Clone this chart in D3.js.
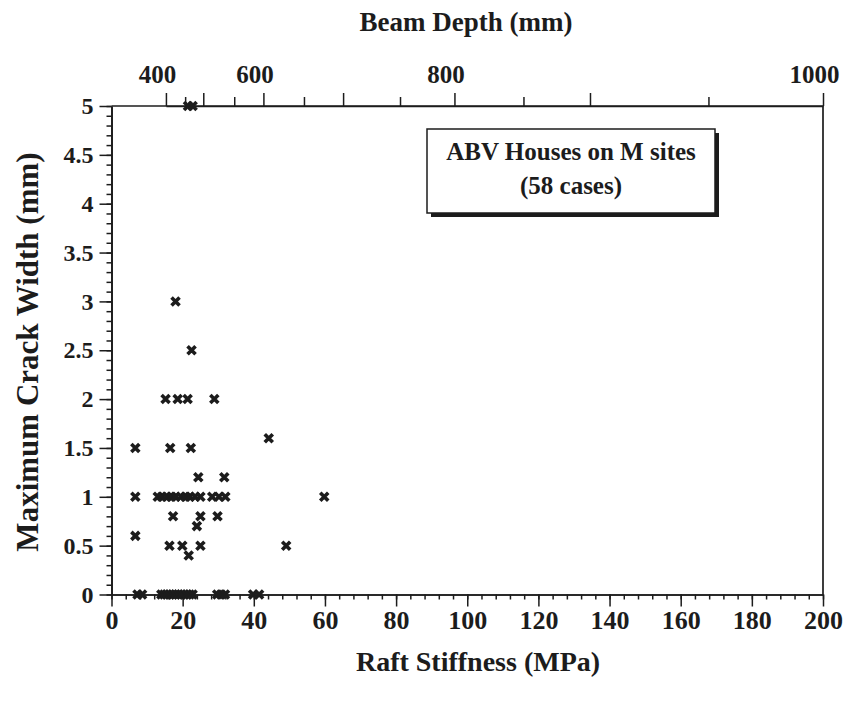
<!DOCTYPE html>
<html>
<head>
<meta charset="utf-8">
<script src="https://cdn.jsdelivr.net/npm/d3@7"></script>
<style>
  body { margin: 0; background: #fff; }
  text { font-family: "Liberation Serif", "Times New Roman", serif; font-weight: bold; fill: #1c1c1c; }
</style>
</head>
<body>
<svg id="chart" width="855" height="704"></svg>
<script>
// Raft stiffness (MPa) and maximum crack width (mm) for each house, in matching order
const stiffness = [
  21.5, 22.8,
  18,
  22.5,
  15.2, 18.6, 21.4, 28.9,
  44.2,
  6.7, 16.5, 22.3,
  24.4, 31.7,
  6.7, 13, 14.2, 15.5, 16.8, 18, 19.5, 20.8, 22, 23.5, 25, 28.3, 30.2, 32, 59.8,
  17.3, 25, 29.8,
  24,
  6.7,
  16.3, 19.9, 25, 49.1,
  21.7,
  7.3, 8.6, 14, 14.8, 15.6, 16.4, 17.2, 18, 18.8, 19.6, 20.4, 21.2, 22, 22.8, 29.7, 30.8, 31.9, 39.8, 41.5
];
const crackWidth = [
  5, 5,
  3,
  2.5,
  2, 2, 2, 2,
  1.6,
  1.5, 1.5, 1.5,
  1.2, 1.2,
  1, 1, 1, 1, 1, 1, 1, 1, 1, 1, 1, 1, 1, 1, 1,
  0.8, 0.8, 0.8,
  0.7,
  0.6,
  0.5, 0.5, 0.5, 0.5,
  0.4,
  0, 0, 0, 0, 0, 0, 0, 0, 0, 0, 0, 0, 0, 0, 0, 0, 0, 0, 0
];

const xMajorTicks = [0, 20, 40, 60, 80, 100, 120, 140, 160, 180, 200];
const xMinorTicks = d3.range(0, 201, 4);
const yMajorTicks = [0, 0.5, 1, 1.5, 2, 2.5, 3, 3.5, 4, 4.5, 5];
const yMinorTicks = d3.range(0, 51).map(d => d / 10);

// Beam depth (mm) ticks on the top axis and the raft stiffness (MPa) each one sits at
const depthTicks = [400, 450, 500, 550, 600, 650, 700, 750, 800, 850, 900, 950, 1000];
const depthTickStiffness = [15.3, 20.7, 25.8, 34.5, 42.7, 54.1, 65.1, 81.1, 96.4, 115.8, 134.5, 167.8, 200];
const depthLabels = [400, 600, 800, 1000];

const legendLines = ["ABV Houses on M sites", "(58 cases)"];

const svg = d3.select("#chart");
const margin = { left: 111.5, right: 32, top: 106, bottom: 109.5 };
const W = 855, H = 704;
const ink = "#1c1c1c";

const x = d3.scaleLinear().domain([0, 200]).range([margin.left, W - margin.right]);
const y = d3.scaleLinear().domain([0, 5]).range([H - margin.bottom, margin.top]);
const depth = d3.scaleLinear().domain(depthTicks).range(depthTickStiffness.map(v => x(v)));

function styleAxis(size) {
  return g => {
    g.selectAll("path.domain").attr("stroke", ink).attr("stroke-width", 1.7);
    g.selectAll(".tick line").attr("stroke", ink).attr("stroke-width", 1.5);
    g.selectAll(".tick text").attr("font-size", size).attr("fill", ink)
      .style("font-family", '"Liberation Serif", serif').style("font-weight", "bold");
  };
}

// Bottom axis
const bottomY = y(0);
svg.append("g").attr("transform", `translate(0,${bottomY})`)
  .call(d3.axisBottom(x).tickValues(xMinorTicks).tickSize(5).tickSizeOuter(0).tickFormat(""))
  .call(styleAxis(26));
svg.append("g").attr("transform", `translate(0,${bottomY})`)
  .call(d3.axisBottom(x).tickValues(xMajorTicks).tickSize(12).tickSizeOuter(0).tickPadding(4).tickFormat(d3.format("d")))
  .call(styleAxis(26));

// Left axis
svg.append("g").attr("transform", `translate(${x(0)},0)`)
  .call(d3.axisLeft(y).tickValues(yMinorTicks).tickSize(5).tickSizeOuter(0).tickFormat(""))
  .call(styleAxis(24));
svg.append("g").attr("transform", `translate(${x(0)},0)`)
  .call(d3.axisLeft(y).tickValues(yMajorTicks).tickSize(12).tickSizeOuter(0).tickPadding(6).tickFormat(d => String(d)))
  .call(styleAxis(24));

// Top axis: beam depth
const topY = y(5);
svg.append("g").attr("transform", `translate(0,${topY})`)
  .call(d3.axisTop(depth).tickValues(depthTicks.filter(d => d % 100 !== 0)).tickSize(9).tickSizeOuter(0).tickFormat(""))
  .call(styleAxis(25));
const topMajor = svg.append("g").attr("transform", `translate(0,${topY})`)
  .call(d3.axisTop(depth).tickValues(depthTicks.filter(d => d % 100 === 0)).tickSize(13).tickSizeOuter(0).tickPadding(10)
    .tickFormat(d => depthLabels.includes(d) ? String(d) : ""))
  .call(styleAxis(25));
topMajor.selectAll(".tick text").attr("dx", -9);
topMajor.select("path.domain").attr("d", `M${x(0)},0H${x(200)}`);

// Right frame line
svg.append("line")
  .attr("x1", x(200)).attr("x2", x(200)).attr("y1", y(5)).attr("y2", y(0))
  .attr("stroke", ink).attr("stroke-width", 1.7);

// Axis titles
svg.append("text").attr("x", 466).attr("y", 31).attr("text-anchor", "middle")
  .attr("font-size", 27).text("Beam Depth (mm)");
svg.append("text").attr("x", 478).attr("y", 671).attr("text-anchor", "middle")
  .attr("font-size", 28).text("Raft Stiffness (MPa)");
svg.append("text").attr("transform", "translate(38,352) rotate(-90)").attr("text-anchor", "middle")
  .attr("font-size", 31).text("Maximum Crack Width (mm)");

// Data markers
const s = 4;
svg.append("g").selectAll("path")
  .data(d3.range(stiffness.length))
  .join("path")
  .attr("transform", i => `translate(${x(stiffness[i])},${y(crackWidth[i])})`)
  .attr("d", `M${-s},${-s}L${s},${s}M${-s},${s}L${s},${-s}`)
  .attr("stroke", ink).attr("stroke-width", 3.6).attr("fill", "none");

// Legend box with drop shadow
const box = { x: 427, y: 129, w: 288, h: 84 };
svg.append("rect").attr("x", box.x + 4).attr("y", box.y + 4).attr("width", box.w).attr("height", box.h).attr("fill", ink);
svg.append("rect").attr("x", box.x).attr("y", box.y).attr("width", box.w).attr("height", box.h)
  .attr("fill", "#fff").attr("stroke", ink).attr("stroke-width", 1.5);
svg.append("g").selectAll("text").data(legendLines).join("text")
  .attr("x", box.x + box.w / 2).attr("y", (d, i) => box.y + 31 + i * 34)
  .attr("text-anchor", "middle").attr("font-size", 25).text(d => d);
</script>
</body>
</html>
